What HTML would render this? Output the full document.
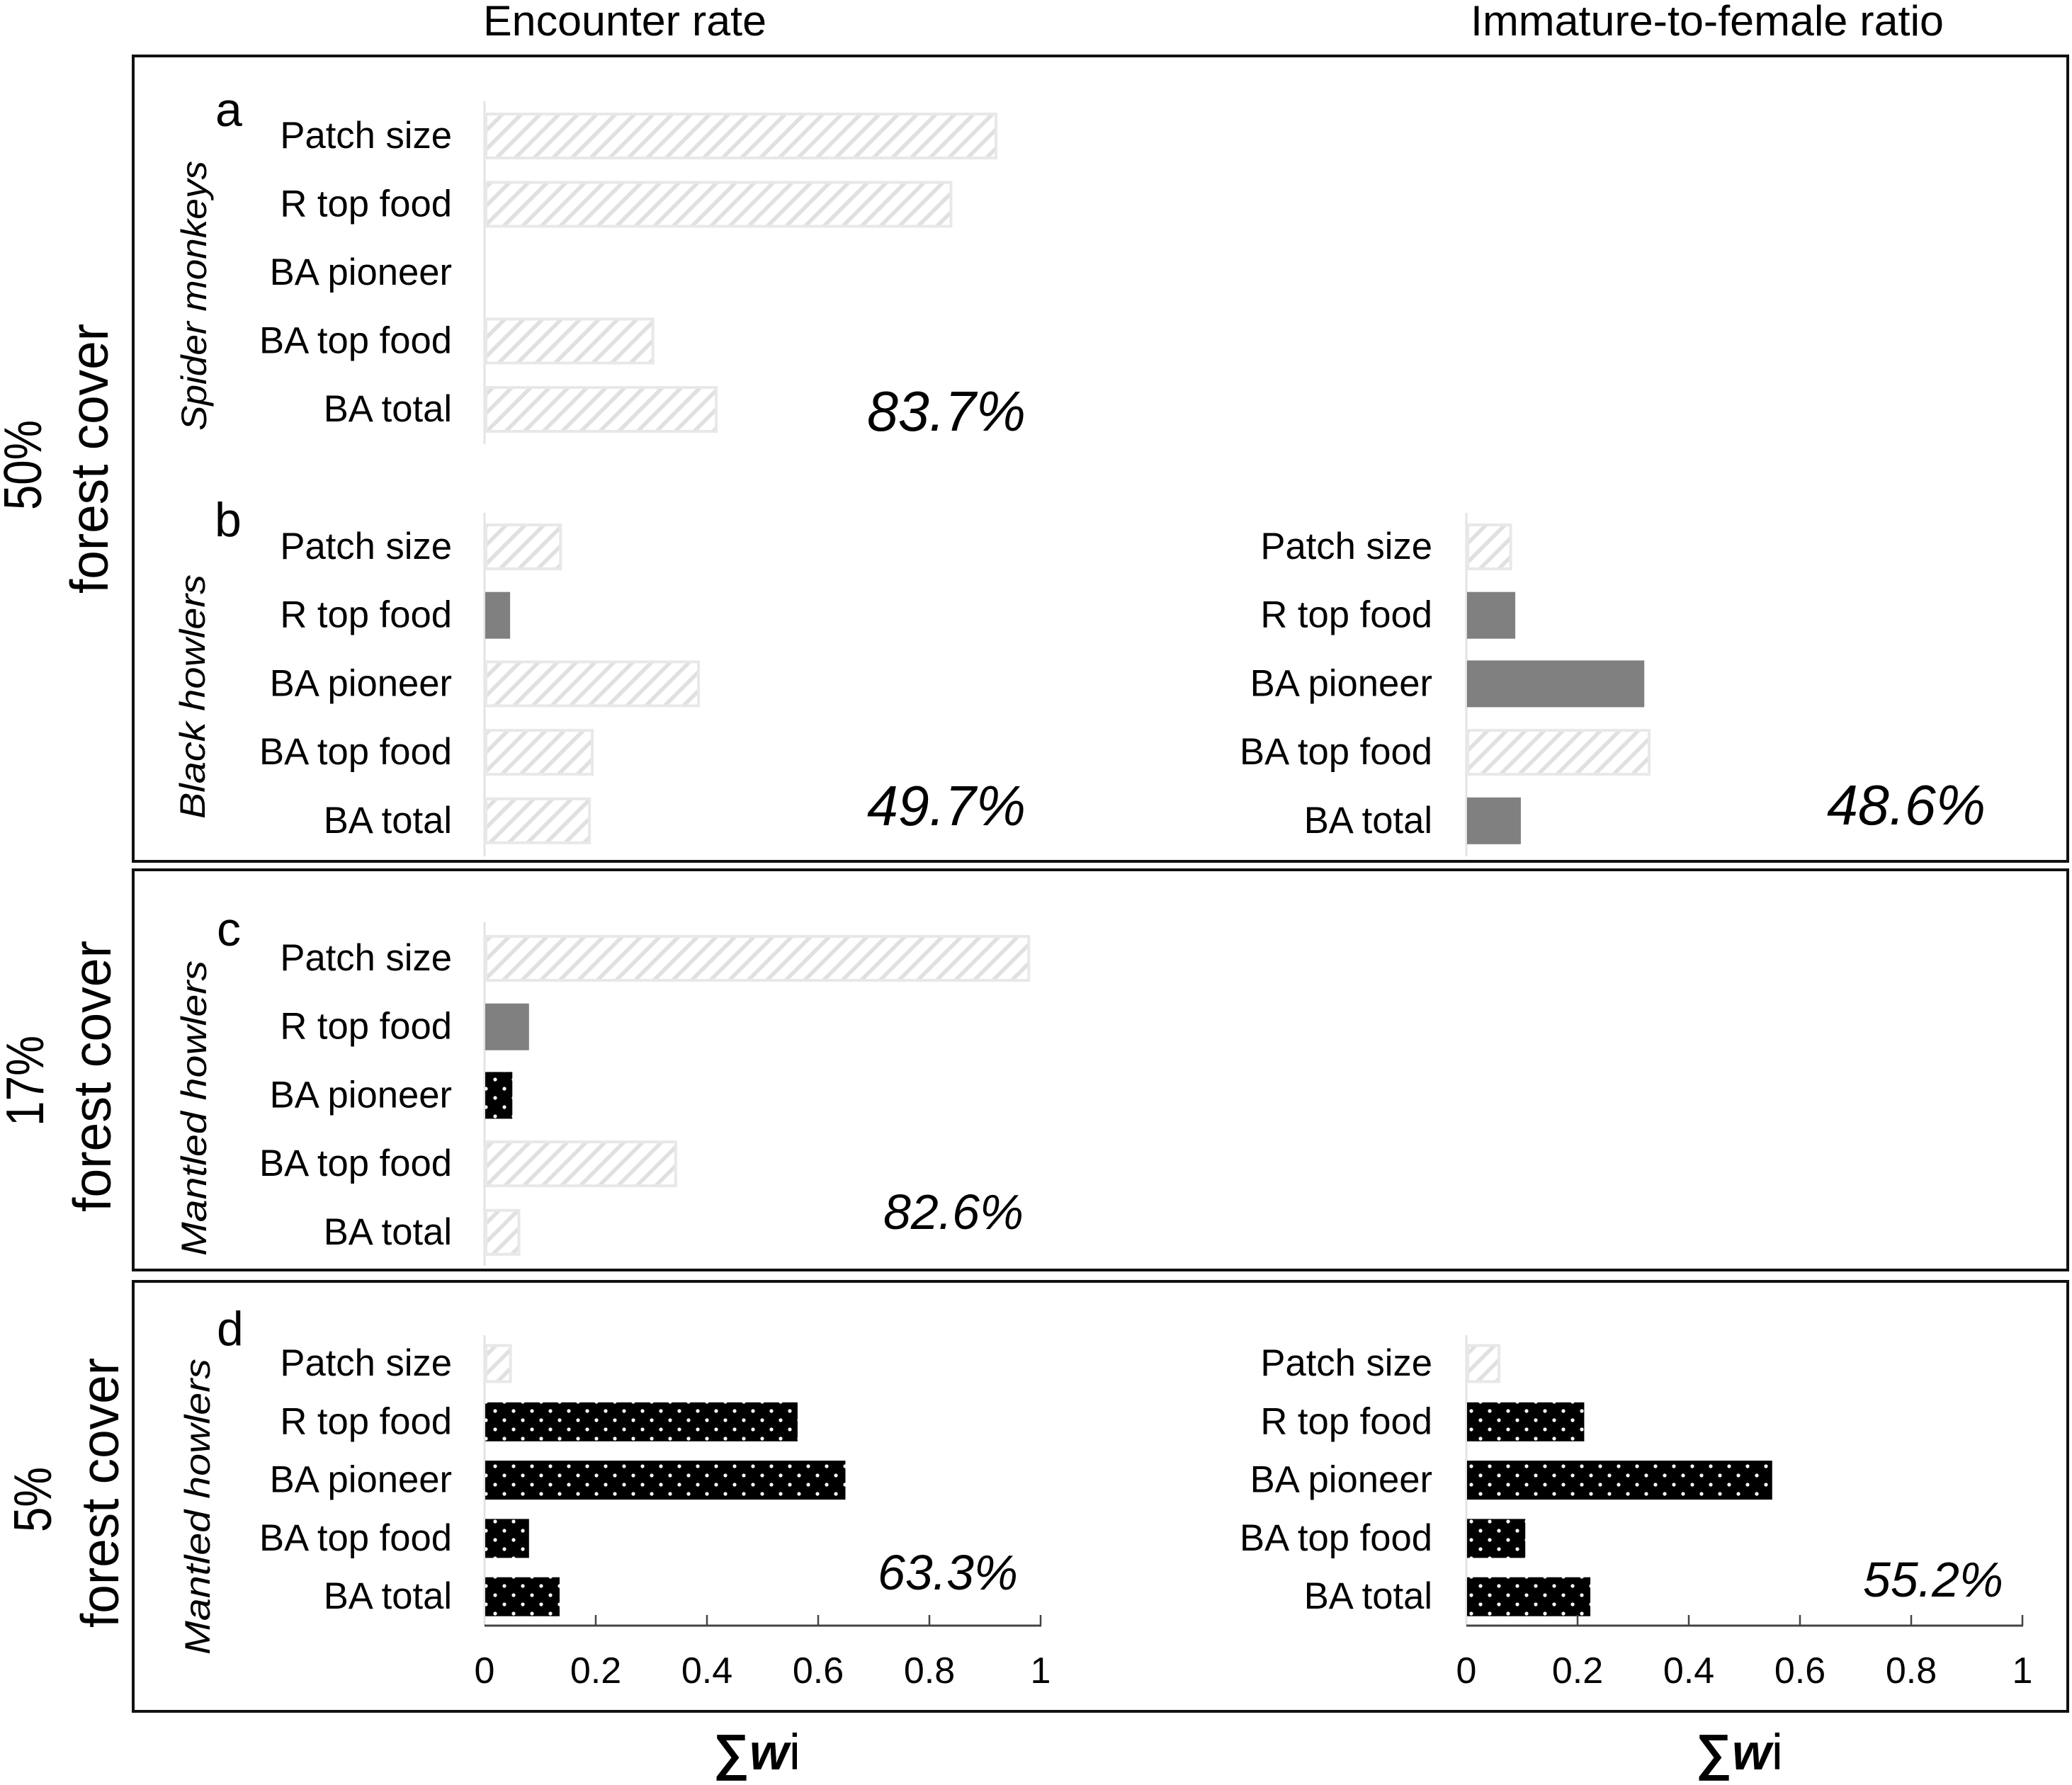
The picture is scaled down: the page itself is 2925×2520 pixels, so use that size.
<!DOCTYPE html>
<html lang="en">
<head>
<meta charset="utf-8">
<title>Sum of Akaike weights by forest cover</title>
<style>
html,body{margin:0;padding:0;background:#fff;}
svg{display:block;}
text{font-family:"Liberation Sans",sans-serif;fill:#000;}
</style>
</head>
<body>
<svg id="chart" xmlns="http://www.w3.org/2000/svg" width="2925" height="2520" viewBox="0 0 2925 2520">
<defs>
<pattern id="hatch" patternUnits="userSpaceOnUse" width="26.6" height="26.6" patternTransform="translate(684,160)">
<rect width="26.6" height="26.6" fill="#fff"/>
<path d="M-6.6,6.6 L6.6,-6.6 M-6.6,33.2 L33.2,-6.6 M20,33.2 L33.2,20" stroke="#e0e0e0" stroke-width="5.5" fill="none"/>
</pattern>
<pattern id="dots" patternUnits="userSpaceOnUse" x="686" y="1511" width="26" height="26">
<rect width="26" height="26" fill="#000"/>
<circle cx="13" cy="13" r="2.6" fill="#fff"/>
<circle cx="0" cy="0" r="2.6" fill="#fff"/>
<circle cx="26" cy="0" r="2.6" fill="#fff"/>
<circle cx="0" cy="26" r="2.6" fill="#fff"/>
<circle cx="26" cy="26" r="2.6" fill="#fff"/>
</pattern>
</defs>

<rect x="188" y="79" width="2731" height="1137" fill="#fff" stroke="#111" stroke-width="4"/>
<rect x="188" y="1228" width="2731" height="565" fill="#fff" stroke="#111" stroke-width="4"/>
<rect x="188" y="1809" width="2731" height="607" fill="#fff" stroke="#111" stroke-width="4"/>

<text x="682" y="50" font-size="60" textLength="400" lengthAdjust="spacingAndGlyphs">Encounter rate</text>
<text x="2076" y="50" font-size="60" textLength="668" lengthAdjust="spacingAndGlyphs">Immature-to-female ratio</text>

<text transform="translate(58,720) rotate(-90)" font-size="75" textLength="127" lengthAdjust="spacingAndGlyphs">50%</text>
<text transform="translate(152,838) rotate(-90)" font-size="75" textLength="381" lengthAdjust="spacingAndGlyphs">forest cover</text>
<text transform="translate(61,1590) rotate(-90)" font-size="75" textLength="128" lengthAdjust="spacingAndGlyphs">17%</text>
<text transform="translate(156,1711) rotate(-90)" font-size="75" textLength="383" lengthAdjust="spacingAndGlyphs">forest cover</text>
<text transform="translate(72,2163) rotate(-90)" font-size="75" textLength="92" lengthAdjust="spacingAndGlyphs">5%</text>
<text transform="translate(167,2298) rotate(-90)" font-size="75" textLength="381" lengthAdjust="spacingAndGlyphs">forest cover</text>

<text transform="translate(291,608) rotate(-90)" font-size="50" font-style="italic" textLength="381" lengthAdjust="spacingAndGlyphs">Spider monkeys</text>
<text transform="translate(289,1156) rotate(-90)" font-size="50" font-style="italic" textLength="345" lengthAdjust="spacingAndGlyphs">Black howlers</text>
<text transform="translate(291,1773) rotate(-90)" font-size="50" font-style="italic" textLength="417" lengthAdjust="spacingAndGlyphs">Mantled howlers</text>
<text transform="translate(296,2336) rotate(-90)" font-size="50" font-style="italic" textLength="418" lengthAdjust="spacingAndGlyphs">Mantled howlers</text>

<text x="304" y="178" font-size="68">a</text>
<text x="303" y="757" font-size="68">b</text>
<text x="306" y="1335" font-size="68">c</text>
<text x="306" y="1899" font-size="68">d</text>

<text x="1224" y="608" font-size="80" font-style="italic" textLength="224" lengthAdjust="spacingAndGlyphs">83.7%</text>
<text x="1224" y="1165" font-size="80" font-style="italic" textLength="224" lengthAdjust="spacingAndGlyphs">49.7%</text>
<text x="2579" y="1164" font-size="80" font-style="italic" textLength="224" lengthAdjust="spacingAndGlyphs">48.6%</text>
<text x="1247" y="1735" font-size="70" font-style="italic" textLength="198" lengthAdjust="spacingAndGlyphs">82.6%</text>
<text x="1239" y="2244" font-size="70" font-style="italic" textLength="198" lengthAdjust="spacingAndGlyphs">63.3%</text>
<text x="2630" y="2254" font-size="70" font-style="italic" textLength="198" lengthAdjust="spacingAndGlyphs">55.2%</text>

<text x="1007" y="2498" font-size="71"><tspan font-weight="bold">∑</tspan><tspan x="1058" font-weight="bold" font-style="italic">w</tspan><tspan x="1114">i</tspan></text>
<text x="2394" y="2498" font-size="71"><tspan font-weight="bold">∑</tspan><tspan x="2445" font-weight="bold" font-style="italic">w</tspan><tspan x="2501">i</tspan></text>

<g id="marks"></g>
</svg>
<script>
// Data
const predictors = ['Patch size', 'R top food', 'BA pioneer', 'BA top food', 'BA total'];
const xTicks = [0, 0.2, 0.4, 0.6, 0.8, 1];
const xTickLabels = ['0', '0.2', '0.4', '0.6', '0.8', '1'];

// Sum of weights per predictor; 0 = no bar. Kind: h = hatched, g = grey, d = dotted
const spiderEncounter = [0.921, 0.84, 0, 0.304, 0.418];
const spiderEncounterKinds = ['h', 'h', 'h', 'h', 'h'];
const blackEncounter = [0.138, 0.046, 0.386, 0.195, 0.19];
const blackEncounterKinds = ['h', 'g', 'h', 'h', 'h'];
const blackRatio = [0.081, 0.088, 0.32, 0.33, 0.098];
const blackRatioKinds = ['h', 'g', 'g', 'h', 'g'];
const mantled17Encounter = [0.98, 0.08, 0.05, 0.345, 0.063];
const mantled17EncounterKinds = ['h', 'g', 'd', 'h', 'h'];
const mantled5Encounter = [0.048, 0.563, 0.649, 0.08, 0.135];
const mantled5EncounterKinds = ['h', 'd', 'd', 'd', 'd'];
const mantled5Ratio = [0.06, 0.212, 0.55, 0.106, 0.223];
const mantled5RatioKinds = ['h', 'd', 'd', 'd', 'd'];

const SVG_NS = 'http://www.w3.org/2000/svg';
const marks = document.getElementById('marks');

function make(tag, attrs) {
  const el = document.createElementNS(SVG_NS, tag);
  Object.keys(attrs).forEach(function (k) { el.setAttribute(k, attrs[k]); });
  marks.appendChild(el);
  return el;
}

function xScale(left, v) { return left + v * 785; }

function drawPanel(prefix, values, kinds, left, firstRow, rowStep, barH, axisTop, axisBottom, labelRight) {
  const spine = make('line', { x1: left, x2: left, y1: axisTop, y2: axisBottom, stroke: '#e3e3e3', 'stroke-width': 3 });
  
  
  predictors.forEach(function (name, i) {
    const cy = firstRow + i * rowStep;
    const label = make('text', { x: labelRight, y: cy + 17, 'font-size': 52.6, 'text-anchor': 'end' });
    label.textContent = name;
    
    
    const v = values[i];
    if (v <= 0) { return; }
    const kind = kinds[i];
    const attrs = { x: left + 1, y: cy - barH / 2, width: xScale(left, v) - left - 1, height: barH };
    if (kind === 'h') {
      attrs.fill = 'url(#hatch)';
      attrs.stroke = '#e8e8e8';
      attrs['stroke-width'] = 4;
      attrs.x = left + 2;
      attrs.y = cy - barH / 2 + 2;
      attrs.width = xScale(left, v) - left - 3;
      attrs.height = barH - 4;
    } else if (kind === 'g') {
      attrs.fill = '#808080';
    } else {
      attrs.fill = 'url(#dots)';
    }
    const bar = make('rect', attrs);
    
    
  });
}

function drawXAxis(prefix, left, y) {
  const base = make('line', { x1: left, x2: xScale(left, 1) + 1, y1: y, y2: y, stroke: '#444', 'stroke-width': 3 });
  
  
  xTicks.forEach(function (t, i) {
    const px = xScale(left, t);
    if (i > 0) {
      const tick = make('line', { x1: px, x2: px, y1: y - 15, y2: y, stroke: '#444', 'stroke-width': 2.5 });
      
      
    }
    const label = make('text', { x: px, y: y + 81, 'font-size': 52, 'text-anchor': 'middle' });
    label.textContent = xTickLabels[i];
    
    
  });
}

const leftAxis = 684;
const rightAxis = 2070;
drawPanel('panel-a-encounter', spiderEncounter, spiderEncounterKinds, leftAxis, 192, 96.5, 66, 143, 627, 638);
drawPanel('panel-b-encounter', blackEncounter, blackEncounterKinds, leftAxis, 772, 96.7, 66, 724, 1209, 638);
drawPanel('panel-b-ratio', blackRatio, blackRatioKinds, rightAxis, 772, 96.7, 66, 724, 1209, 2022);
drawPanel('panel-c-encounter', mantled17Encounter, mantled17EncounterKinds, leftAxis, 1353, 96.7, 66, 1302, 1787, 638);
drawPanel('panel-d-encounter', mantled5Encounter, mantled5EncounterKinds, leftAxis, 1925, 82.3, 55, 1885, 2295, 638);
drawPanel('panel-d-ratio', mantled5Ratio, mantled5RatioKinds, rightAxis, 1925, 82.3, 55, 1885, 2295, 2022);
drawXAxis('panel-d-encounter', leftAxis, 2295);
drawXAxis('panel-d-ratio', rightAxis, 2295);
</script>
</body>
</html>
